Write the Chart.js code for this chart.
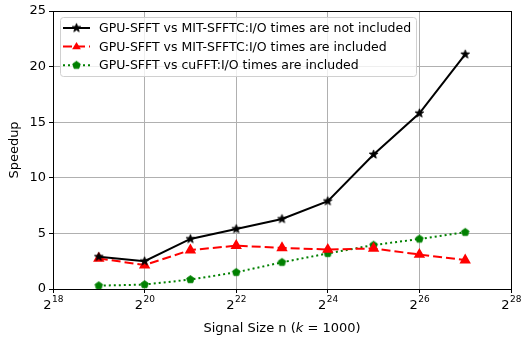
<!DOCTYPE html>
<html><head><meta charset="utf-8">
<script src="https://cdn.jsdelivr.net/npm/chart.js@4/dist/chart.umd.min.js"></script>
<style>html,body{margin:0;padding:0;background:#fff}canvas{display:block}</style>
</head><body>
<canvas id="c" width="521" height="338"></canvas>
<script>
const exponents = [19, 20, 21, 22, 23, 24, 25, 26, 27];
const seriesNames = [
  "GPU-SFFT vs MIT-SFFTC:I/O times are not included",
  "GPU-SFFT vs MIT-SFFTC:I/O times are included",
  "GPU-SFFT vs cuFFT:I/O times are included"
];
const notIncluded = [2.9, 2.5, 4.5, 5.4, 6.3, 7.9, 12.1, 15.8, 21.1];
const mitIncluded = [2.75, 2.15, 3.5, 3.9, 3.7, 3.55, 3.65, 3.1, 2.6];
const cufftIncluded = [0.3, 0.4, 0.85, 1.5, 2.4, 3.2, 3.95, 4.5, 5.1];
const xTickExps = [18, 20, 22, 24, 26, 28];
const yTickVals = [0, 5, 10, 15, 20, 25];
const xTitleParts = ["Signal Size n (", "k", " = 1000)"];
const yTitle = "Speedup";

const FONT = "'DejaVu Sans', sans-serif";

function makeMarker(kind, color, r) {
  const s = Math.ceil(r * 2 + 3);
  const cv = document.createElement("canvas");
  cv.width = s; cv.height = s;
  const g = cv.getContext("2d");
  const cx = s / 2, cy = s / 2;
  g.beginPath();
  if (kind === "star") {
    for (let i = 0; i < 10; i++) {
      const rr = i % 2 === 0 ? r : r * 0.42;
      const a = -Math.PI / 2 + i * Math.PI / 5;
      const x = cx + rr * Math.cos(a), y = cy + rr * Math.sin(a);
      i ? g.lineTo(x, y) : g.moveTo(x, y);
    }
  } else {
    for (let i = 0; i < 5; i++) {
      const a = -Math.PI / 2 + i * 2 * Math.PI / 5;
      const x = cx + r * Math.cos(a), y = cy + r * Math.sin(a);
      i ? g.lineTo(x, y) : g.moveTo(x, y);
    }
  }
  g.closePath();
  g.fillStyle = color; g.fill();
  g.strokeStyle = color; g.lineWidth = 0.8; g.stroke();
  return cv;
}
const starImg = makeMarker("star", "#000", 4.6);
const pentImg = makeMarker("pent", "#008000", 4);

function drawTriangle(ctx, x, y, r, color) {
  ctx.beginPath();
  ctx.moveTo(x, y - r);
  ctx.lineTo(x + r * 0.95, y + r * 0.6);
  ctx.lineTo(x - r * 0.95, y + r * 0.6);
  ctx.closePath(); ctx.fillStyle = color; ctx.fill();
}

const decorations = {
  id: "decorations",
  afterDraw(chart) {
    const { ctx, chartArea: a, scales } = chart;
    ctx.save();
    ctx.fillStyle = "#000";
    ctx.textBaseline = "alphabetic";
    xTickExps.forEach(e => {
      const px = scales.x.getPixelForValue(e);
      ctx.font = "13px " + FONT;
      const w1 = ctx.measureText("2").width;
      ctx.font = "9px " + FONT;
      const w2 = ctx.measureText(String(e)).width;
      const x0 = px - (w1 + w2) / 2;
      ctx.font = "13px " + FONT;
      ctx.textAlign = "left";
      ctx.fillText("2", x0, a.bottom + 20);
      ctx.font = "9px " + FONT;
      ctx.fillText(String(e), x0 + w1 + 0.5, a.bottom + 13);
    });
    ctx.font = "13px " + FONT;
    const p0 = ctx.measureText(xTitleParts[0]).width;
    const p2 = ctx.measureText(xTitleParts[2]).width;
    ctx.font = "italic 13px " + FONT;
    const p1 = ctx.measureText(xTitleParts[1]).width;
    const cx = (a.left + a.right) / 2;
    let tx = cx - (p0 + p1 + p2) / 2;
    const ty = a.bottom + 43;
    ctx.font = "13px " + FONT; ctx.fillText(xTitleParts[0], tx, ty); tx += p0;
    ctx.font = "italic 13px " + FONT; ctx.fillText(xTitleParts[1], tx, ty); tx += p1;
    ctx.font = "13px " + FONT; ctx.fillText(xTitleParts[2], tx, ty);
    ctx.restore();
  },
  afterDatasetsDraw(chart) {
    const { ctx, chartArea: a } = chart;
    ctx.save();
    ctx.strokeStyle = "#000"; ctx.lineWidth = 1;
    ctx.strokeRect(Math.round(a.left) + 0.5, Math.round(a.top) + 0.5,
      Math.round(a.right - a.left), Math.round(a.bottom - a.top));
    const bx = a.left + 7, by = a.top + 6, bw = 356, bh = 59;
    ctx.beginPath();
    ctx.roundRect(bx + 0.5, by + 0.5, bw, bh, 3);
    ctx.fillStyle = "rgba(255,255,255,0.8)"; ctx.fill();
    ctx.strokeStyle = "#d0d0d0"; ctx.stroke();
    ctx.font = "12.5px " + FONT;
    ctx.textBaseline = "middle";
    chart.data.datasets.forEach((ds, i) => {
      const y = by + 11 + i * 18.6;
      const x0 = bx + 3, x1 = bx + 30;
      ctx.beginPath();
      ctx.setLineDash(ds.borderDash || []);
      ctx.strokeStyle = ds.borderColor; ctx.lineWidth = ds.borderWidth;
      ctx.moveTo(x0, y); ctx.lineTo(x1, y); ctx.stroke();
      ctx.setLineDash([]);
      const mx = (x0 + x1) / 2;
      if (ds.pointStyle === "triangle") {
        drawTriangle(ctx, mx, y, 4.6, ds.borderColor);
      } else {
        const img = ds.pointStyle;
        ctx.drawImage(img, mx - img.width / 2, y - img.height / 2);
      }
      ctx.fillStyle = "#000";
      ctx.fillText(ds.label, bx + 39, y + 1);
    });
    ctx.restore();
  }
};

const toXY = vals => vals.map((v, i) => ({ x: exponents[i], y: v }));

new Chart(document.getElementById("c"), {
  type: "line",
  data: {
    datasets: [
      { label: seriesNames[0], data: toXY(notIncluded), borderColor: "#000", backgroundColor: "#000",
        borderWidth: 2, pointStyle: starImg, pointRadius: 4.6, tension: 0 },
      { label: seriesNames[1], data: toXY(mitIncluded), borderColor: "#ff0000", backgroundColor: "#ff0000",
        borderWidth: 2, borderDash: [9, 4], pointStyle: "triangle", pointRadius: 4.6, tension: 0 },
      { label: seriesNames[2], data: toXY(cufftIncluded), borderColor: "#008000", backgroundColor: "#008000",
        borderWidth: 2, borderDash: [2, 3], pointStyle: pentImg, pointRadius: 4, tension: 0 }
    ]
  },
  options: {
    responsive: false, animation: false, devicePixelRatio: 1,
    layout: { padding: { top: 11, right: 10, left: 0, bottom: 0 } },
    plugins: { legend: { display: false }, tooltip: { enabled: false } },
    scales: {
      x: {
        type: "linear", min: 18, max: 28,
        afterBuildTicks: s => { s.ticks = xTickExps.map(v => ({ value: v })); },
        afterFit: s => { s.height = 49; },
        ticks: { callback: () => "", padding: 2, maxRotation: 0 },
        grid: { color: "#b0b0b0", lineWidth: 1, tickColor: "#000", tickLength: 4 },
        border: { color: "#000" }
      },
      y: {
        min: 0, max: 25,
        afterBuildTicks: s => { s.ticks = yTickVals.map(v => ({ value: v })); },
        afterFit: s => { s.width = 53; },
        ticks: { color: "#000", font: { family: FONT, size: 13 }, padding: 3 },
        grid: { color: "#b0b0b0", lineWidth: 1, tickColor: "#000", tickLength: 4 },
        border: { color: "#000" },
        title: { display: true, text: yTitle, color: "#000", font: { family: FONT, size: 13 }, padding: { top: 7, bottom: 4 } }
      }
    }
  },
  plugins: [decorations]
});
</script>
</body></html>
